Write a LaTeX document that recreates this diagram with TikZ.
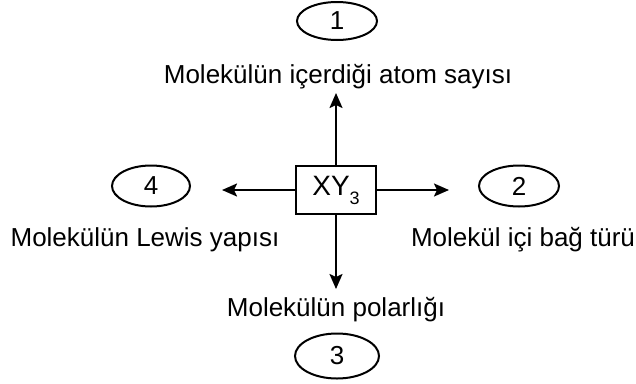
\documentclass[tikz,border=0pt]{standalone}
\usepackage{fontspec}
\setmainfont{Liberation Sans}
\usetikzlibrary{shapes.geometric,arrows.meta}
\begin{document}
\begin{tikzpicture}[x=1pt,y=-1pt,
  numell/.style={draw,ellipse,line width=2pt,inner sep=0pt,font=\fontsize{26}{28}\selectfont},
  lbl/.style={anchor=base,inner sep=0pt,font=\fontsize{26}{30}\selectfont},
  arr/.style={line width=2pt,-{Stealth[length=15pt,width=13pt,inset=3pt]}},
  centerbox/.style={draw,rectangle,line width=2.5pt,minimum width=80pt,minimum height=48pt,inner sep=0pt,font=\fontsize{28}{30}\selectfont}]
\useasboundingbox (0,0) rectangle (636,383);
\node[centerbox] (xy) at (336,190) {XY\raisebox{-0.32em}{\fontsize{18}{18}\selectfont 3}};
\node[numell,minimum width=80pt,minimum height=38pt] (e1) at (337,21) {1};
\node[numell,minimum width=80pt,minimum height=41pt] (e2) at (519,186) {2};
\node[numell,minimum width=84pt,minimum height=45pt] (e3) at (337,356) {3};
\node[numell,minimum width=78pt,minimum height=41pt] (e4) at (151,186) {4};
\node[lbl] (t1) at (338,83) {Molekülün içerdiği atom sayısı};
\node[lbl] (t2) at (523,246) {Molekül içi bağ türü};
\node[lbl] (t3) at (336,316) {Molekülün polarlığı};
\node[lbl] (t4) at (145,246) {Molekülün Lewis yapısı};
\coordinate (up) at (336,93);
\coordinate (dn) at (336,289);
\coordinate (lt) at (222,190);
\coordinate (rt) at (449,190);
\draw[arr] (xy.north) -- (up);
\draw[arr] (xy.south) -- (dn);
\draw[arr] (xy.west) -- (lt);
\draw[arr] (xy.east) -- (rt);
\end{tikzpicture}
\end{document}
